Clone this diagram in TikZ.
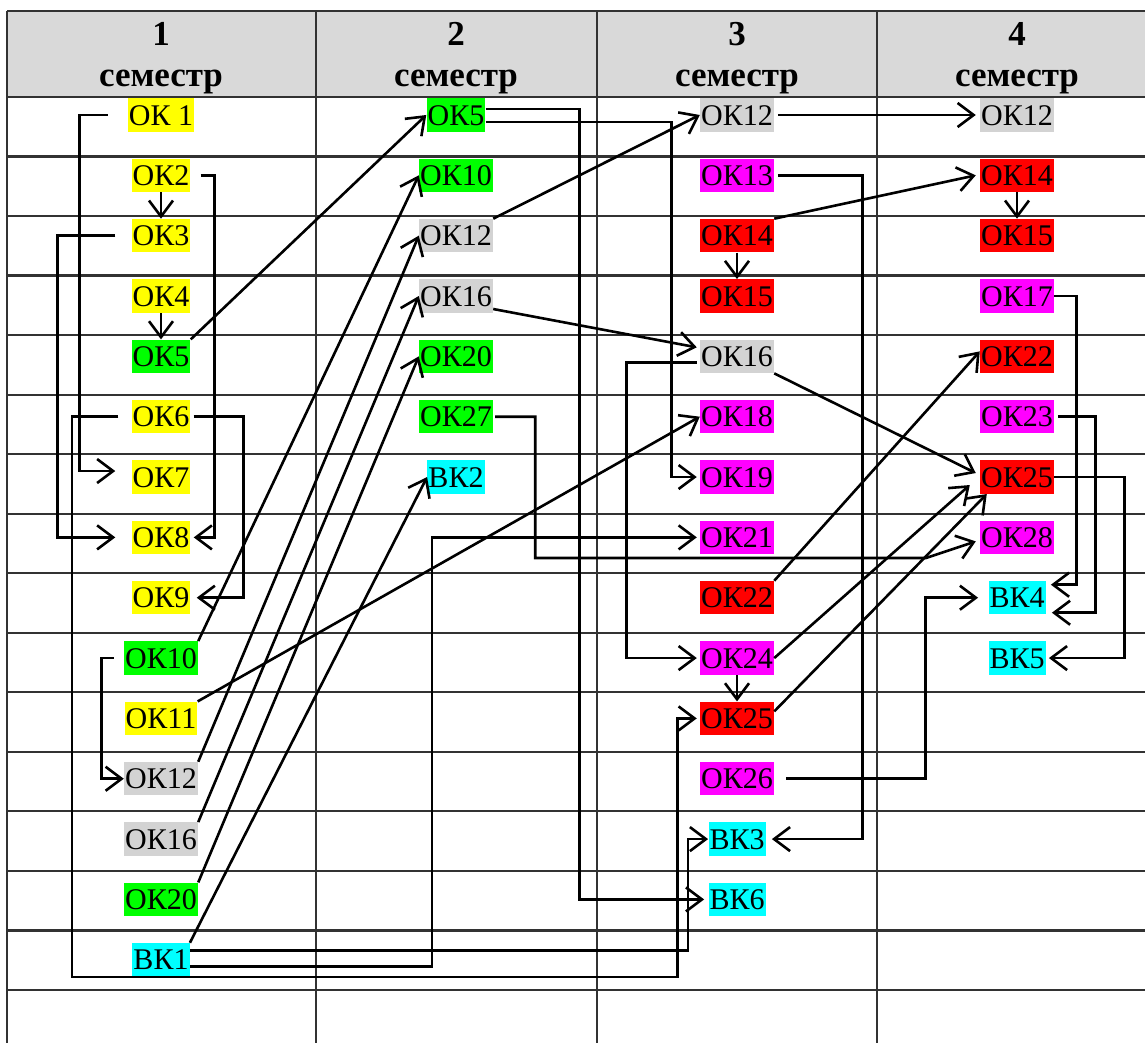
\documentclass[tikz,border=0pt]{standalone}
\usepackage{fontspec}
\setmainfont{Liberation Serif}
\usepackage{xcolor}
\usepackage{tikz}
\usetikzlibrary{arrows.meta}
\usetikzlibrary{positioning}

\definecolor{okyellow}{RGB}{255,255,0}
\definecolor{okgreen}{RGB}{0,255,0}
\definecolor{okgray}{RGB}{211,211,211}
\definecolor{okpink}{RGB}{255,0,255}
\definecolor{okred}{RGB}{255,0,0}
\definecolor{okcyan}{RGB}{0,255,255}
\definecolor{headgray}{RGB}{217,217,217}
\definecolor{gridline}{RGB}{50,50,50}

\tikzset{
  cell/.style={fill=#1, inner xsep=0.5pt, inner ysep=0pt, text height=13.4pt, text depth=3.2pt, font=\fontsize{15}{17}\selectfont},
  head/.style={anchor=base, font=\fontsize{17.5}{20}\selectfont\bfseries},
  grid/.style={line width=1.1pt, gridline},
  link/.style={line width=1.3pt, -{Straight Barb[length=8pt,width=12pt]}},
}

\begin{document}
\begin{tikzpicture}[x=0.5pt,y=-0.5pt,node distance=13.17pt]
   \useasboundingbox (0,0) rectangle (1145,1043);
   % table
   \fill[headgray] (7,11) rectangle (1145,97);
   \draw[grid] (7,11) -- (1145,11);
   \foreach \r in {0,...,15}
     \draw[grid] (7,{97+59.53*\r}) -- (1145,{97+59.53*\r});
   \foreach \x in {7,316,597,877}
     \draw[grid] (\x,11) -- (\x,1043);
   \foreach \n/\x in {1/161,2/456,3/737,4/1017} {
     \node[head] (n\n) at (\x,46) {\n};
     \node[head] (s\n) at (\x,87) {семестр};
   }

   % 1 semester
   \node[cell=okyellow] (A1) at (161,115) {ОК 1};
   \node[cell=okyellow] (A2) [below=of A1] {ОК2};
   \node[cell=okyellow] (A3) [below=of A2] {ОК3};
   \node[cell=okyellow] (A4) [below=of A3] {ОК4};
   \node[cell=okgreen] (A5) [below=of A4] {ОК5};
   \node[cell=okyellow] (A6) [below=of A5] {ОК6};
   \node[cell=okyellow] (A7) [below=of A6] {ОК7};
   \node[cell=okyellow] (A8) [below=of A7] {ОК8};
   \node[cell=okyellow] (A9) [below=of A8] {ОК9};
   \node[cell=okgreen] (A10) [below=of A9] {ОК10};
   \node[cell=okyellow] (A11) [below=of A10] {ОК11};
   \node[cell=okgray] (A12) [below=of A11] {ОК12};
   \node[cell=okgray] (A16) [below=of A12] {ОК16};
   \node[cell=okgreen] (A20) [below=of A16] {ОК20};
   \node[cell=okcyan] (AB1) [below=of A20] {ВК1};

   % 2 semester
   \node[cell=okgreen] (B5) at (456,115) {ОК5};
   \node[cell=okgreen] (B10) [below=of B5] {ОК10};
   \node[cell=okgray] (B12) [below=of B10] {ОК12};
   \node[cell=okgray] (B16) [below=of B12] {ОК16};
   \node[cell=okgreen] (B20) [below=of B16] {ОК20};
   \node[cell=okgreen] (B27) [below=of B20] {ОК27};
   \node[cell=okcyan] (BB2) [below=of B27] {ВК2};

   % 3 semester
   \node[cell=okgray] (C12) at (737,115) {ОК12};
   \node[cell=okpink] (C13) [below=of C12] {ОК13};
   \node[cell=okred] (C14) [below=of C13] {ОК14};
   \node[cell=okred] (C15) [below=of C14] {ОК15};
   \node[cell=okgray] (C16) [below=of C15] {ОК16};
   \node[cell=okpink] (C18) [below=of C16] {ОК18};
   \node[cell=okpink] (C19) [below=of C18] {ОК19};
   \node[cell=okpink] (C21) [below=of C19] {ОК21};
   \node[cell=okred] (C22) [below=of C21] {ОК22};
   \node[cell=okpink] (C24) [below=of C22] {ОК24};
   \node[cell=okred] (C25) [below=of C24] {ОК25};
   \node[cell=okpink] (C26) [below=of C25] {ОК26};
   \node[cell=okcyan] (CB3) [below=of C26] {ВК3};
   \node[cell=okcyan] (CB6) [below=of CB3] {ВК6};

   % 4 semester
   \node[cell=okgray] (D12) at (1017,115) {ОК12};
   \node[cell=okred] (D14) [below=of D12] {ОК14};
   \node[cell=okred] (D15) [below=of D14] {ОК15};
   \node[cell=okpink] (D17) [below=of D15] {ОК17};
   \node[cell=okred] (D22) [below=of D17] {ОК22};
   \node[cell=okpink] (D23) [below=of D22] {ОК23};
   \node[cell=okred] (D25) [below=of D23] {ОК25};
   \node[cell=okpink] (D28) [below=of D25] {ОК28};
   \node[cell=okcyan] (DB4) [below=of D28] {ВК4};
   \node[cell=okcyan] (DB5) [below=of DB4] {ВК5};

   % straight links
   \path[link]
    (A2) edge (A3)
    (A4) edge (A5)
    (C14) edge (C15)
    (C24) edge (C25)
    (D14) edge (D15)
    (A5.north east) edge (B5.west)
    (A10.north east) edge (B10.west)
    (A11.north east) edge (C18.west)
    (A12.north east) edge (B12.west)
    (A16.north east) edge (B16.west)
    (A20.north east) edge (B20.west)
    (AB1.north east) edge (BB2.west)
    (B12.north east) edge (C12.west)
    ([yshift=2pt]B16.south east) edge ([xshift=-1.5pt,yshift=4.5pt]C16.west)
    ([xshift=2pt]C12.east) edge ([xshift=-2pt]D12.west)
    (C14.north east) edge ([xshift=-2pt]D14.west)
    (C16.south east) edge ([xshift=-2pt,yshift=2pt]D25.west)
    (C22.north east) edge ([yshift=2.5pt]D22.west)
    (C24.east) edge ([xshift=-5pt,yshift=-4pt]D25.west)
    ([yshift=3.5pt]C25.east) edge ([xshift=3.5pt]D25.south west);

   % elbow links
   \draw[link] ([xshift=-10pt]A1.west) -- ++(-14pt,0pt) |- ([xshift=-8pt,yshift=3pt]A7.west);
   \draw[link] ([xshift=5pt]A2.east) -- ++(7pt,0pt) |- ([xshift=1.5pt]A8.east);
   \draw[link] ([xshift=-8pt]A3.west) -- ++(-29pt,0pt) |- ([xshift=-8pt]A8.west);
   \draw[link] ([xshift=1.5pt]A6.east) -- ++(25pt,0pt) |- ([xshift=3pt]A9.east);
   \draw[link] ([xshift=-6.5pt]A6.west) -| (72,977) -| ([xshift=-11pt]C25.west) -- ([xshift=-1.5pt]C25.west);
   \draw[link] ([xshift=-5pt]A10.west) -- ++(-6pt,0pt) |- (A12.west);
   \draw[link] ([yshift=4.5pt]AB1.east) -| ([xshift=-10pt]CB3.west) -- (CB3.west);
   \draw[link] ([yshift=-3.5pt]AB1.east) -- ++(121pt,0pt) |- ([xshift=-1.5pt]C21.west);
   \draw[link] ([yshift=3pt]B5.east) -- ++(47pt,0pt) |- ([xshift=-2pt]CB6.west);
   \draw[link] ([yshift=-3.5pt]B5.east) -- ++(93pt,0pt) |- ([xshift=-1.5pt]C19.west);
   \draw[link] ([xshift=1pt]B27.east) -- ++(20pt,0pt) |- (926,558) -- ([xshift=-2pt,yshift=-2pt]D28.west);
   \draw[link] ([xshift=2pt]C13.east) -- ++(42pt,0pt) |- ([xshift=3pt]CB3.east);
   \draw[link] ([xshift=-1.5pt,yshift=-3pt]C16.west) -- ++(-35pt,0pt) |- ([xshift=-1.5pt]C24.west);
   \draw[link] ([xshift=6pt]C26.east) -- ++(69.5pt,0pt) |- ([xshift=-5pt]DB4.west);
   \draw[link] (D17.east) -- ++(11pt,0pt) |- ([xshift=2.5pt,yshift=6.5pt]DB4.east);
   \draw[link] ([xshift=2pt]D23.east) -- ++(18.5pt,0pt) |- ([xshift=3pt,yshift=-7.5pt]DB4.east);
   \draw[link] (D25.east) -- ++(35pt,0pt) |- ([xshift=1.5pt]DB5.east);
\end{tikzpicture}
\end{document}
